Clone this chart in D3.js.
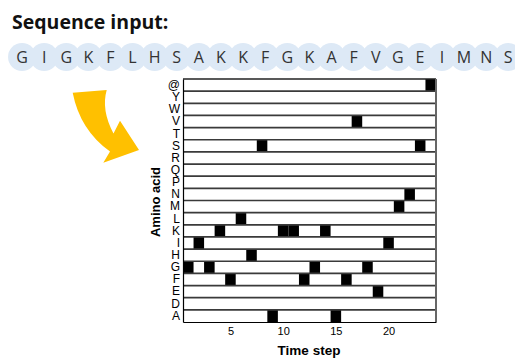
<!DOCTYPE html>
<html><head><meta charset="utf-8">
<script src="https://cdn.jsdelivr.net/npm/d3@7/dist/d3.min.js"></script>
<style>body{margin:0;background:#fff;}svg{display:block;}</style>
</head><body>
<svg id="c" width="515" height="358"></svg>
<script>
// Data
const aminoAcids = ["@","Y","W","V","T","S","R","Q","P","N","M","L","K","I","H","G","F","E","D","A"];
const sequence = ["G","I","G","K","F","L","H","S","A","K","K","F","G","K","A","F","V","G","E","I","M","N","S"];
const endToken = "@";
const timeTicks = [5,10,15,20];

const encoded = sequence.concat([endToken]).map((aa,i)=>({t:i+1, aa}));
const steps = encoded.map(d=>d.t);

const svg = d3.select("#c");

// Title
svg.append("text").attr("x",12).attr("y",29)
  .attr("font-family","'Open Sans', sans-serif").attr("font-weight","bold")
  .attr("font-size",19.5).attr("fill","#111").text("Sequence input:");

// Sequence beads
const sx = d3.scaleBand().domain(d3.range(sequence.length)).range([11, 11+22.1*sequence.length]);
const beads = svg.append("g");
beads.selectAll("circle").data(sequence).join("circle")
  .attr("cx",(d,i)=>sx(i)+sx.bandwidth()/2).attr("cy",57).attr("r",14).attr("fill","#dde9f6");
beads.selectAll("text").data(sequence).join("text")
  .attr("x",(d,i)=>sx(i)+sx.bandwidth()/2).attr("y",62.5)
  .attr("text-anchor","middle").attr("font-family","'Open Sans', sans-serif")
  .attr("font-size",16).attr("fill","#333").text(d=>d);

// Arrow
svg.append("path").attr("fill","#ffc000")
  .attr("d","M72.7,92.7 L106.7,90 Q101,110 113.5,133.5 L120,120.7 L139,150 L103.3,162.7 L110,151.5 Q80,130 72.7,92.7 Z");

// Matrix
const L=183, R=436, T=79, B=322;
const x = d3.scaleBand().domain(steps).range([L,R]);
const y = d3.scaleBand().domain(aminoAcids).range([T,B]);
const xt = d3.scaleLinear().domain([0.5, steps.length+0.5]).range([L,R]);

const g = svg.append("g");
g.append("rect").attr("x",L).attr("y",T).attr("width",R-L).attr("height",B-T).attr("fill","#fff");
g.selectAll("rect.cell").data(encoded).join("rect").attr("class","cell")
  .attr("x",d=>x(d.t)).attr("y",d=>y(d.aa)).attr("width",x.bandwidth()).attr("height",y.bandwidth())
  .attr("fill","#000");
// row borders
g.selectAll("line.row").data(aminoAcids.slice(1)).join("line").attr("class","row")
  .attr("x1",L).attr("x2",R).attr("y1",d=>y(d)).attr("y2",d=>y(d))
  .attr("stroke","#3a3a3a").attr("stroke-width",1.7);
g.append("line").attr("x1",L).attr("x2",R).attr("y1",T).attr("y2",T).attr("stroke","#222").attr("stroke-width",1.5);
g.append("line").attr("x1",R).attr("x2",R).attr("y1",T).attr("y2",B).attr("stroke","#666").attr("stroke-width",2);

// Axes
const ya = svg.append("g").attr("transform",`translate(${L},0)`)
  .call(d3.axisLeft(y).tickSize(0).tickPadding(3));
ya.select(".domain").attr("stroke","#000").attr("stroke-width",1.2);
ya.selectAll("text").attr("font-family","'Liberation Sans', Arial, sans-serif").attr("font-size",12).attr("fill","#000");

const xa = svg.append("g").attr("transform",`translate(0,${B})`)
  .call(d3.axisBottom(xt).tickValues(timeTicks).tickSize(0).tickPadding(5).tickSizeOuter(0));
xa.select(".domain").attr("stroke","#000").attr("stroke-width",1.2);
xa.selectAll("text").attr("font-family","'Liberation Sans', Arial, sans-serif").attr("font-size",11).attr("fill","#000");

svg.append("text").attr("transform","translate(160,202) rotate(-90)").attr("text-anchor","middle")
  .attr("font-family","'Liberation Sans', Arial, sans-serif").attr("font-weight","bold").attr("font-size",13)
  .text("Amino acid");
svg.append("text").attr("x",309).attr("y",355).attr("text-anchor","middle")
  .attr("font-family","'Liberation Sans', Arial, sans-serif").attr("font-weight","bold").attr("font-size",13.5)
  .text("Time step");
</script>
</body></html>
